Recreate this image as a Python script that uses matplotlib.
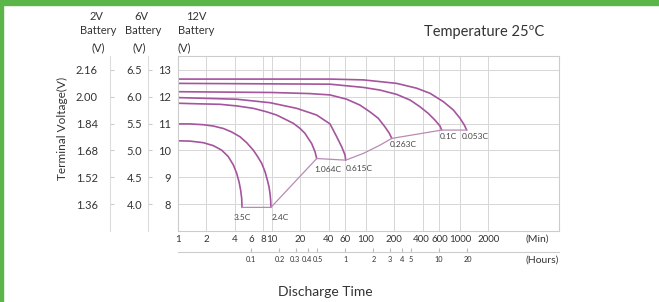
import numpy as np
import matplotlib.pyplot as plt
import matplotlib.transforms as mtransforms
from matplotlib.ticker import NullLocator, FixedLocator, NullFormatter

plt.rcParams["font.family"] = ["Lato", "DejaVu Sans"]

# 방전 곡선 데이터 (분, 12V 기준 전압)
rates = ["3.5C", "2.4C", "1.064C", "0.615C", "0.263C", "0.1C", "0.053C"]
t_35 = [1.0, 1.34, 1.86, 2.38, 2.92, 3.43, 3.88, 4.21, 4.46, 4.64, 4.76, 4.80]
v_35 = [10.36, 10.35, 10.29, 10.18, 10.01, 9.77, 9.46, 9.15, 8.83, 8.52, 8.21, 7.88]
t_24 = [1.0, 1.34, 1.86, 2.38, 3.03, 3.72, 4.57, 5.38, 6.33, 7.04, 7.77, 8.43,
        8.92, 9.29, 9.52, 9.68, 9.74]
v_24 = [10.99, 10.99, 10.96, 10.91, 10.82, 10.69, 10.51, 10.29, 10.01, 9.77, 9.52,
        9.21, 8.90, 8.65, 8.40, 8.15, 7.88]
t_1064 = [1.0, 1.58, 2.80, 4.21, 6.33, 8.78, 11.2, 13.7, 16.9, 19.9, 22.4, 24.3,
          26.4, 28.7, 29.9]
v_1064 = [11.76, 11.74, 11.72, 11.66, 11.57, 11.44, 11.32, 11.17, 11.01, 10.82,
          10.64, 10.45, 10.26, 9.95, 9.70]
t_0615 = [1.0, 4.21, 9.52, 18.3, 29.9, 41.4, 48.8, 55.1, 59.8, 60.8]
v_0615 = [11.97, 11.91, 11.78, 11.57, 11.32, 10.99, 10.51, 10.14, 9.83, 9.64]
t_0263 = [1.0, 10.0, 25.0, 41.4, 62.3, 86.3, 110.0, 135.0, 159.0, 177.0, 188.0]
v_0263 = [12.19, 12.16, 12.12, 12.07, 11.91, 11.69, 11.44, 11.20, 10.88, 10.64, 10.45]
t_01 = [1.0, 41.4, 93.6, 141.0, 212.0, 294.0, 375.0, 460.0, 542.0, 613.0, 638.0]
v_01 = [12.50, 12.47, 12.35, 12.25, 12.09, 11.88, 11.63, 11.38, 11.13, 10.91, 10.76]
t_0053 = [1.0, 41.4, 93.6, 212.0, 346.0, 480.0, 664.0, 849.0, 1000.0, 1111.0, 1178.0]
v_0053 = [12.66, 12.66, 12.63, 12.50, 12.32, 12.13, 11.82, 11.51, 11.20, 10.95, 10.76]

# 종지 전압 연결선
cut_t = [4.8, 9.74, 29.9, 60.8, 93.6, 141.0, 188.0, 638.0, 1178.0]
cut_v = [7.88, 7.88, 9.70, 9.64, 9.89, 10.20, 10.45, 10.76, 10.76]

# 축 눈금
v12_ticks = [13, 12, 11, 10, 9, 8]
v6_labels = ["6.5", "6.0", "5.5", "5.0", "4.5", "4.0"]
v2_labels = ["2.16", "2.00", "1.84", "1.68", "1.52", "1.36"]
min_ticks = [1, 2, 4, 6, 8, 10, 20, 40, 60, 100, 200, 400, 600, 1000, 2000]
min_grid = [2, 4, 8, 10, 20, 40, 60, 100, 200, 400, 600, 1000, 2000]
hour_ticks = [0.1, 0.2, 0.3, 0.4, 0.5, 1, 2, 3, 4, 5, 10, 20]
hour_labels = ["0.1", "0.2", "0.3", "0.4", "0.5", "1", "2", "3", "4", "5", "10", "20"]

W, H = 659, 302
fig = plt.figure(figsize=(W / 100, H / 100), dpi=100)
fig.patch.set_facecolor("white")

# 녹색 테두리
green = "#5cb548"
fig.patches.append(plt.Rectangle((0, 1 - 5 / H), 1, 5 / H, transform=fig.transFigure,
                                 color=green, zorder=0))
fig.patches.append(plt.Rectangle((0, 0), 3 / W, 1, transform=fig.transFigure,
                                 color=green, zorder=0))

ax = fig.add_axes([178 / W, 1 - 231 / H, (559 - 178) / W, (231 - 56) / H])
ax.set_xscale("log")
ax.set_xlim(1, 11300)
ax.set_ylim(7.0, 13.52)

grid_c = "#d6d6d6"
for s in ax.spines.values():
    s.set_color("#cccccc")
    s.set_linewidth(0.8)
for g in min_grid:
    ax.axvline(g, color=grid_c, lw=0.7, zorder=0)
for v in v12_ticks:
    ax.axhline(v, color=grid_c, lw=0.7, zorder=0)

curve_c = "#a5549e"
curves = [(t_35, v_35), (t_24, v_24), (t_1064, v_1064), (t_0615, v_0615),
          (t_0263, v_0263), (t_01, v_01), (t_0053, v_0053)]
for t, v in curves:
    ax.plot(t, v, color=curve_c, lw=1.2, solid_joinstyle="round",
            solid_capstyle="round")
ax.plot(cut_t, cut_v, color="#b98ab5", lw=0.9, solid_joinstyle="round")

# 방전율 라벨 (끝점 기준 오프셋, 픽셀)
offsets = [(0, -10, "center"), (1, -10, "left"), (-2, -11, "left"), (0, -8, "left"),
           (-2, -6, "left"), (-2, -6, "left"), (-5, -6, "left")]
for (t, v), name, (dx, dy, ha) in zip(curves, rates, offsets):
    ax.annotate(name, (t[-1], v[-1]), xytext=(dx, dy), textcoords="offset pixels",
                ha=ha, va="center", fontsize=6, color="#444444")


def nudge(axis, shifts):
    # 붐비는 눈금 라벨을 몇 픽셀 옮긴다
    for tick in axis.get_major_ticks():
        dx = shifts.get(round(tick.get_loc(), 3))
        if dx:
            off = mtransforms.ScaledTranslation(dx / 100, 0, fig.dpi_scale_trans)
            tick.label1.set_transform(tick.label1.get_transform() + off)


# x축 (분)
ax.xaxis.set_major_locator(FixedLocator(min_ticks))
ax.xaxis.set_minor_locator(NullLocator())
ax.set_xticklabels([str(m) for m in min_ticks])
ax.tick_params(axis="x", length=0, pad=3, labelsize=7, labelcolor="#333333")
nudge(ax.xaxis, {400: -0.9, 600: 0.6})

# y축 (12V)
ax.set_yticks(v12_ticks)
ax.tick_params(axis="y", length=0, pad=5, labelsize=8, labelcolor="#333333")

# 6V, 2V 보조 축
for loc, labels, pad in [(-0.079, v6_labels, 4), (-0.178, v2_labels, 9)]:
    sy = ax.secondary_yaxis(loc)
    sy.set_yticks(v12_ticks)
    sy.set_yticklabels(labels)
    sy.spines["left"].set_color("#dcdcdc")
    sy.spines["left"].set_linewidth(0.8)
    sy.tick_params(axis="y", direction="in", length=3, color="#cccccc",
                   pad=pad, labelsize=8, labelcolor="#333333")
    sy.yaxis.set_minor_locator(NullLocator())

# 시간 축
sx = ax.secondary_xaxis(-0.12, functions=(lambda m: m / 60.0, lambda h: h * 60.0))
sx.set_xticks(hour_ticks)
sx.set_xticklabels(hour_labels)
sx.xaxis.set_minor_locator(NullLocator())
sx.xaxis.set_minor_formatter(NullFormatter())
sx.spines["bottom"].set_color("#cccccc")
sx.spines["bottom"].set_linewidth(0.8)
sx.tick_params(axis="x", direction="in", length=3, color="#bbbbbb", pad=3,
               labelsize=5.3, labelcolor="#333333")
nudge(sx.xaxis, {0.3: -1.3, 0.4: -1.0, 0.5: 1.4})


def ftext(x, y, s, **kw):
    kw.setdefault("ha", "center")
    kw.setdefault("va", "center")
    kw.setdefault("color", "#333333")
    fig.text(x / W, 1 - y / H, s, **kw)


ftext(537, 239, "(Min)", fontsize=7.5)
ftext(542, 260, "(Hours)", fontsize=7.5)
ftext(325, 292, "Discharge Time", fontsize=10)
ftext(484, 32, "Temperature 25ºC", fontsize=10.5)
ftext(62, 128, "Terminal Voltage(V)", fontsize=8.5, rotation=90)

for x, top in [(98, "2V"), (143, "6V"), (196, "12V")]:
    ftext(x - (2 if top != "12V" else 0), 17, top, fontsize=8)
    ftext(x, 31, "Battery", fontsize=8)
ftext(98, 48, "(V)", fontsize=8)
ftext(139, 48, "(V)", fontsize=8)
ftext(178, 48, "(V)", fontsize=8, ha="left")

fig.savefig("out.png", dpi=100)
